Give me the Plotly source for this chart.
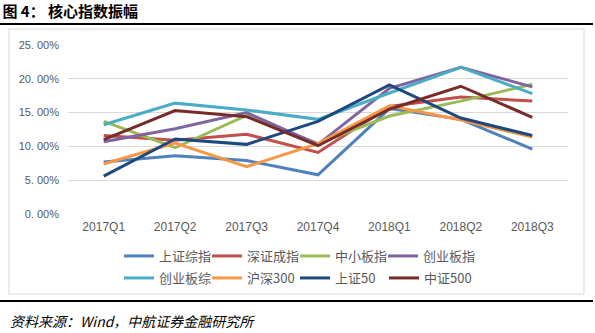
import plotly.graph_objects as go

quarters = ["2017Q1", "2017Q2", "2017Q3", "2017Q4", "2018Q1", "2018Q2", "2018Q3"]

names = ["上证综指", "深证成指", "中小板指", "创业板指", "创业板综", "沪深300", "上证50", "中证500"]
szzz = [7.7, 8.6, 7.9, 5.8, 15.6, 14.0, 9.6]
szcz = [11.6, 10.9, 11.8, 9.1, 15.9, 17.3, 16.7]
zxbz = [13.7, 9.8, 14.6, 10.4, 14.5, 16.7, 19.2]
cybz = [10.7, 12.6, 15.0, 10.3, 18.6, 21.7, 18.8]
cybzong = [13.2, 16.4, 15.4, 14.0, 17.9, 21.7, 17.8]
hs300 = [7.4, 10.5, 7.0, 10.4, 16.0, 13.9, 11.4]
sz50 = [5.6, 11.1, 10.3, 13.7, 19.1, 14.2, 11.6]
zz500 = [11.0, 15.3, 14.4, 10.1, 15.5, 18.9, 14.3]
series = [szzz, szcz, zxbz, cybz, cybzong, hs300, sz50, zz500]
colors = ["#4F81BD", "#C0504D", "#9BBB59", "#8064A2", "#4BACC6", "#F79646", "#1F497D", "#772C2A"]

ytickvals = [0, 5, 10, 15, 20, 25]
yticktext = ["0. 00%", "5. 00%", "10. 00%", "15. 00%", "20. 00%", "25. 00%"]

W, H = 595, 333
ML, MR, MT, MB = 68, 27, 45, 119
PW, PH = W - ML - MR, H - MT - MB


def px(x):
    return (x - ML) / PW


def py(y):
    return (H - MB - y) / PH


# legend layout: column x (pixel of sample start) and row y (pixel centre)
leg_cols = [124, 212, 300, 388, 124, 212, 300, 389]
leg_rows = [256, 256, 256, 256, 278, 278, 278, 278]

cjk = "Noto Sans CJK SC"
fig = go.Figure()
legends = {}
for i, (n, s, c) in enumerate(zip(names, series, colors)):
    lid = "legend" if i == 0 else f"legend{i + 1}"
    fig.add_trace(go.Scatter(x=quarters, y=s, name=n, mode="lines",
                             line=dict(color=c, width=3), legend=lid))
    legends[lid] = dict(orientation="h", xanchor="left", yanchor="middle",
                        x=px(leg_cols[i] - 5), y=py(leg_rows[i]),
                        font=dict(family=cjk, size=13, color="#595959"),
                        itemwidth=30, bgcolor="rgba(0,0,0,0)")

fig.update_layout(
    width=W, height=H,
    margin=dict(l=ML, r=MR, t=MT, b=MB),
    paper_bgcolor="white", plot_bgcolor="white",
    showlegend=True,
    xaxis=dict(type="category", range=[-0.5, 6.5], showgrid=False, showline=False,
               zeroline=False, ticks="",
               tickfont=dict(family="Liberation Sans Narrow, Liberation Sans", size=12, color="#595959"),
               ticklabelstandoff=4),
    yaxis=dict(range=[0, 25], tickvals=ytickvals, ticktext=yticktext, showgrid=True,
               gridcolor="#D9D9D9", gridwidth=1, zeroline=False, showline=False, ticks="",
               tickfont=dict(family="Liberation Sans", size=11, color="#595959"),
               ticklabelstandoff=8),
    title=dict(text="<b>图\u00a04：\u00a0核心指数振幅</b>", xref="container", yref="container",
               x=0.004, y=1 - 12 / H, xanchor="left", yanchor="middle",
               font=dict(family=cjk, size=15, color="black")),
    shapes=[
        dict(type="line", xref="paper", yref="paper", x0=px(0), x1=px(593), y0=py(24), y1=py(24),
             line=dict(color="black", width=2)),
        dict(type="rect", xref="paper", yref="paper", x0=px(9), x1=px(584), y0=py(29), y1=py(294),
             line=dict(color="#D9D9D9", width=1)),
        dict(type="line", xref="paper", yref="paper", x0=px(0), x1=px(593), y0=py(301), y1=py(301),
             line=dict(color="black", width=2)),
    ],
    annotations=[
        dict(text="<i>资料来源：Wind，中航证券金融研究所</i>", xref="paper", yref="paper",
             x=px(8), y=py(321), xanchor="left", yanchor="middle", showarrow=False,
             font=dict(family=cjk, size=14, color="black")),
    ],
)
fig.update_layout(**legends)

fig.write_html("out.html")
